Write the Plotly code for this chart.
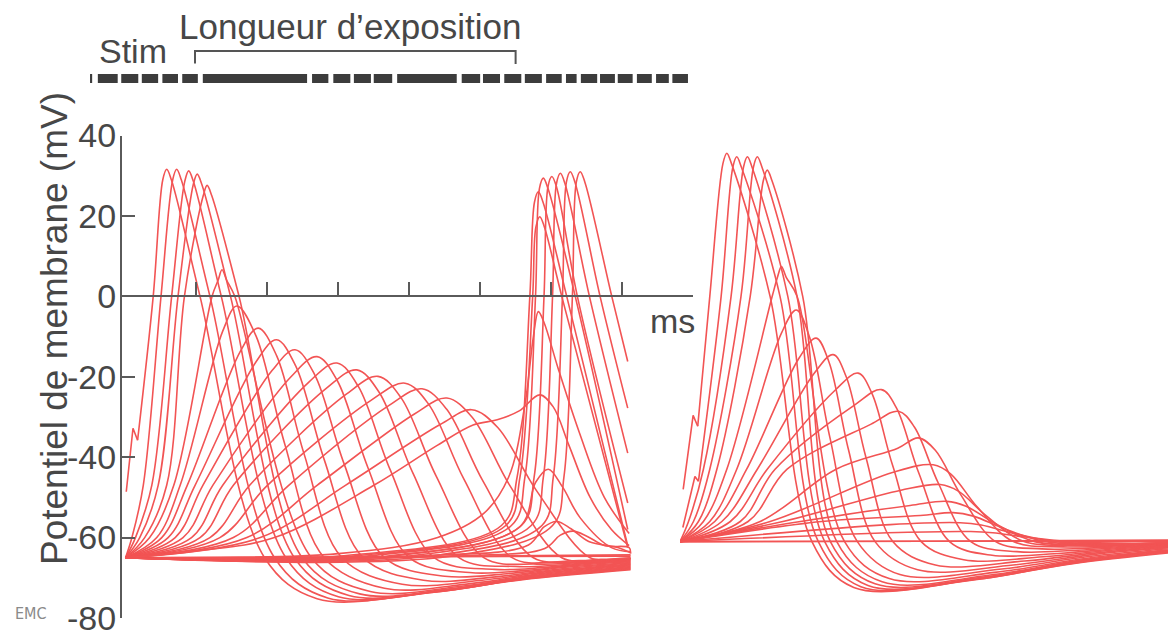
import plotly.graph_objects as go

# ---------------- data (ms, mV) ----------------
# left panel: baseline -65 mV, sweep ends at 71.2 ms
L_VB = -65.0
L_TE = 71.2
L_peak_t = [5.8, 7.2, 8.9, 10.1, 11.5, 13.6, 15.7, 18.7, 21.3, 23.9, 27.0, 29.8, 32.6, 35.6, 39.4, 41.8, 45.3, 48.8]
L_peak_v = [31.6, 31.6, 31.2, 30.4, 27.6, 6.6, -2.4, -7.9, -10.8, -13.3, -15.0, -16.6, -18.3, -19.9, -21.6, -23.0, -25.3, -28.2]
L_t60 = [None, 0.9, 1.4, 2.0, 2.7, 3.4, 4.4, 5.1, 6.0, 7.0, 8.1, 9.3, 10.5, 11.9, 13.3, 15.2, 17.1, 19.0]
L_t47 = [None, 2.5, 3.7, 4.6, 5.8, 6.8, 7.7, 8.7, 9.8, 10.9, 12.3, 13.7, 15.2, 17.5, 20.0, 23.0, 27.0, 31.0]
L_up0 = [3.9, 5.0, 6.5, 7.4, 8.3, 12.2] + [None] * 12
L_fall0 = [10.5, 11.9, 13.5, 14.8, 16.0, 15.4] + [None] * 12
L_base_t = [19.6, 21.0, 22.6, 23.8, 24.9, 26.2, 28.0, 30.5, 33.5, 36.5, 40.0, 43.5, 47.0, 50.5, 54.5, 57.5, 61.5, 65.5]
L_trough_t = [27.0, 28.5, 30.0, 31.5, 33.0, 34.5, 36.5, 39.0, 42.0, 45.0, 48.5, 52.0, 55.0, 58.0, 61.5, 64.0, 67.0, 69.5]
L_trough_v = [-75.2, -75.0, -74.7, -74.4, -74.0, -73.4, -72.6, -71.6, -70.6, -69.6, -68.7, -67.9, -67.2, -66.6, -66.1, -65.7, -65.4, -65.2]
L_end_v = [-68.0, -67.8, -67.6, -67.4, -67.2, -67.0, -66.8, -66.6, -66.4, -66.2, -66.0, -65.8, -65.6, -65.4, -65.3, -65.2, -65.1, -65.0]
# stimulus artefact at the start of the first left trace (drawn straight)
L_art_t = [0.1, 1.05, 1.7]
L_art_v = [-48.6, -32.8, -35.8]

# left panel, late responses
LA_peak_t = [58.2, 58.4, 58.9, 60.1, 61.3, 62.7, 64.1]
LA_peak_v = [26.0, 19.8, 29.4, 29.8, 30.6, 31.0, 31.0]
LA_start_t = [30.0, 32.0, 34.0, 37.0, 40.0, 43.0, 46.0]
LA_t57 = [53.0, 53.6, 54.4, 55.8, 57.2, 58.7, 60.2]
LA_t45 = [55.2, 55.6, 56.3, 57.6, 58.9, 60.3, 61.8]
LA_up0 = [57.0, 57.4, 57.8, 59.0, 60.2, 61.6, 63.0]
LA_fall0 = [62.2, 61.5, 63.4, 63.7, 65.4, 66.9, 68.55]
LA_cut_t = 70.8
LA_end_v = [-62.0, -62.5, -58.0, -51.4, -39.0, -27.8, -16.2]

LP_t = [0, 30, 44, 50.5, 54, 56.3, 57.5, 58.2, 59.0, 61.0, 64.0, 67.5, 71.0]
LP_v = [-65, -64, -60, -54, -45, -27, -10, -3.8, -6.5, -18, -34, -50, -59]
LB_t = [0, 10, 21, 35, 44, 49, 52.4, 55.5, 58.4, 60.3, 62.5, 65.5, 68.5, 71.0]
LB_v = [-65, -63.3, -60, -47, -37, -32, -30.7, -28.5, -24.5, -27.5, -37, -50, -58, -62]

LS_peak_t = [59.6, 60.8, 63.1]
LS_peak_v = [-43.0, -56.0, -58.4]
LS_start_t = [38.0, 42.0, 48.0]
LS_base_t = [68.5, 69.5, 71.0]
LS_end_v = [-63.5, -63.8, -64.0]
LF_end_v = [-64.3, -64.6]

# right panel: baseline -61 mV
R_VB = -61.0
R_TE = 72.0
R_peak_t = [6.6, 8.0, 9.5, 10.9, 12.3, 14.3, 16.4, 19.2, 21.6, 25.1, 28.4, 30.8, 33.6, 35.7, 36.7, 37.6, 38.5, 39.5, 41.0]
R_peak_v = [35.6, 34.7, 34.7, 34.7, 31.4, 7.4, -3.4, -10.4, -14.5, -19.1, -23.2, -28.6, -35.2, -41.9, -46.8, -51.0, -53.8, -56.3, -58.5]
R_t56 = [None, None, 1.2, 1.9, 2.6, 3.3, 4.2, 4.9, 5.9, 7.1, 8.5, 9.6, 11.3, 12.7, 14.5, 17.0, 20.0, None, None]
R_t43 = [None, None, 3.3, 4.2, 5.2, 6.6, 8.0, 9.4, 10.9, 12.3, 13.4, 15.1, 22.0, None, None, None, None, None, None]
R_up0 = [4.2, 5.8, 7.2, 8.6, 9.9, 13.0] + [None] * 13
R_fall0 = [12.7, 14.1, 15.2, 16.5, 17.3, 16.5] + [None] * 13
R_base_t = [18.6, 19.5, 20.4, 21.2, 22.1, 23.2, 25.0, 27.5, 30.0, 34.0, 38.0, 41.0, 44.5, 47.0, 48.5, 50.0, 51.5, 53.0, 55.0]
R_trough_t = [24.5, 25.5, 26.5, 27.5, 28.5, 29.5, 31.0, 33.5, 36.0, 40.0, 44.0, 47.5, 51.0, 54.0, 56.0, 58.0, 60.0, 62.0, 64.0]
R_trough_v = [-72.4, -72.2, -71.9, -71.5, -71.0, -70.2, -69.2, -68.0, -66.8, -65.5, -64.4, -63.5, -62.8, -62.3, -62.0, -61.8, -61.6, -61.5, -61.4]
R_end_v = [-63.3, -63.1, -62.9, -62.7, -62.6, -62.5, -62.3, -62.1, -62.0, -61.9, -61.8, -61.7, -61.6, -61.5, -61.4, -61.3, -61.2, -61.1, -61.0]
R_art_t = [[0.45, 1.85, 2.5], [0.4, 2.1, 2.6]]
R_art_v = [[-48.0, -29.6, -32.3], [-57.5, -44.8, -46.0]]
R_FLAT_END = [-60.6, -60.9]

# stimulus train (ms on the left-panel time scale)
STIM_START = [-5.0, -3.9, -0.6, 2.3, 5.2, 8.0, 10.9, 26.3, 29.3, 32.2, 35.0, 38.3, 47.4, 50.4, 53.4, 56.3, 59.3, 62.1, 64.2, 66.9, 69.4, 72.1, 74.8, 77.1]
STIM_END = [-4.7, -1.1, 1.8, 4.6, 7.4, 10.2, 25.6, 28.6, 31.7, 34.6, 37.6, 46.7, 50.0, 52.8, 55.8, 58.7, 61.5, 63.6, 66.5, 69.0, 71.5, 74.2, 76.6, 79.3]
EXPO_START, EXPO_END = 9.8, 55.0

Y_TICKS = [-80, -60, -40, -20, 0, 20, 40]
Y_TICKTEXT = ['-80', '-60', '-40', '-20', '0', '20', '40']
X_TICKS = [10, 20, 30, 40, 50, 60, 70, 80]

# ---------------- style ----------------
RED = 'rgb(242,84,84)'
LW = 1.6
GREY = '#474747'
AXC = '#5a5a5a'
FONT = 'Liberation Sans'
PK_DT, PK_DV = 0.55, 2.6


def build(vb, te, tp, vp, start_t, start_v, lv, t1, t2, up0, fall0, base_t, tr_t, tr_v, end_v):
    ts, vs = list(start_t), list(start_v)
    amp = vp - vb
    for lt, lvv in ((t1, vb + lv[0]), (t2, vb + lv[1])):
        if lt is not None and lvv < vp - 0.2 * amp:
            ts.append(lt); vs.append(lvv)
    if vp > 0:
        if up0 is not None:
            ts.append(up0); vs.append(0.0)
        ts += [tp - PK_DT, tp, tp + PK_DT * 1.2]
        vs += [vp - PK_DV, vp, vp - PK_DV]
        if fall0 is not None:
            ts.append(fall0); vs.append(0.0)
    else:
        last = ts[-1]
        ts += [tp - 0.25 * (tp - last), tp]
        vs += [vp - 0.1 * amp, vp]
        f = base_t - tp
        ts += [tp + 0.22 * f, tp + 0.55 * f]
        vs += [vp - 0.12 * amp, vb + 0.45 * amp]
    ts.append(base_t); vs.append(vb)
    if tr_t < te - 1:
        ts.append(tr_t); vs.append(tr_v)
        span = te - tr_t
        if span > 10:
            ts += [tr_t + 0.35 * span, tr_t + 0.65 * span]
            vs += [tr_v + 0.2 * (end_v - tr_v), tr_v + 0.65 * (end_v - tr_v)]
    ts.append(te); vs.append(end_v)
    return ts, vs


fig = go.Figure()


def add_curve(ts, vs, xa, shape='spline'):
    fig.add_trace(go.Scatter(x=ts, y=vs, mode='lines', xaxis=xa, yaxis='y',
                             line=dict(color=RED, width=LW, shape=shape, smoothing=1.0),
                             hoverinfo='skip', showlegend=False))


# left panel main family
for i in range(len(L_peak_t)):
    if i == 0:
        add_curve(L_art_t, L_art_v, 'x', 'linear')
        st, sv = L_art_t[-1:], L_art_v[-1:]
    else:
        st, sv = [0.0], [L_VB]
    ts, vs = build(L_VB, L_TE, L_peak_t[i], L_peak_v[i], st, sv, (5, 18), L_t60[i], L_t47[i],
                   L_up0[i], L_fall0[i], L_base_t[i], L_trough_t[i], L_trough_v[i], L_end_v[i])
    add_curve(ts, vs, 'x')

# left panel baseline traces
for ev in LF_end_v:
    add_curve([0.0, 35.0, L_TE], [L_VB, -64.8, ev], 'x')

# left panel small late bumps
for i in range(len(LS_peak_t)):
    tp, vp = LS_peak_t[i], LS_peak_v[i]
    a = vp - L_VB
    add_curve([0.0, LS_start_t[i], tp - 4.0, tp - 1.8, tp, tp + 2.0, tp + 4.5, LS_base_t[i], L_TE],
              [L_VB, L_VB + 0.5, L_VB + 0.35 * a, vp - 0.15 * a, vp, vp - 0.2 * a, L_VB + 0.45 * a, -62.5, LS_end_v[i]], 'x')

add_curve(LB_t, LB_v, 'x')
add_curve(LP_t, LP_v, 'x')

# left panel late action potentials (cut at sweep end)
for i in range(len(LA_peak_t)):
    tp, vp = LA_peak_t[i], LA_peak_v[i]
    add_curve([0.0, LA_start_t[i], LA_t57[i], LA_t45[i], LA_up0[i], tp - PK_DT, tp, tp + PK_DT * 1.2, LA_fall0[i], LA_cut_t],
              [L_VB, L_VB + 0.4, -57, -45, 0, vp - PK_DV, vp, vp - PK_DV, 0, LA_end_v[i]], 'x')

# right panel
for i in range(len(R_peak_t)):
    if i < 2:
        add_curve(R_art_t[i], R_art_v[i], 'x2', 'linear')
        st, sv = R_art_t[i][-1:], R_art_v[i][-1:]
    else:
        st, sv = [0.0], [R_VB]
    ts, vs = build(R_VB, R_TE, R_peak_t[i], R_peak_v[i], st, sv, (5, 18), R_t56[i], R_t43[i],
                   R_up0[i], R_fall0[i], R_base_t[i], R_trough_t[i], R_trough_v[i], R_end_v[i])
    add_curve(ts, vs, 'x2')
for ev in R_FLAT_END:
    add_curve([0.0, 35.0, R_TE], [R_VB, -60.9, ev], 'x2')

# stimulus train and exposure bracket (vertical unit: pixel rows of the header band)
sx, sy = [], []
for a, b in zip(STIM_START, STIM_END):
    sx += [a, b, None]
    sy += [78.5, 78.5, None]
fig.add_trace(go.Scatter(x=sx, y=sy, mode='lines', xaxis='x3', yaxis='y3',
                         line=dict(color='#3c3c3c', width=9), hoverinfo='skip', showlegend=False))
fig.add_trace(go.Scatter(x=[EXPO_START, EXPO_START, EXPO_END, EXPO_END], y=[63.5, 51.0, 51.0, 64.0],
                         mode='lines', xaxis='x3', yaxis='y3',
                         line=dict(color='#555555', width=2), hoverinfo='skip', showlegend=False))

# ---------------- layout ----------------
W, H = 1176, 641
OFF = 8            # page margin of the browser around the figure
px_per_ms = 7.093
y_dom = [1 - (618 - OFF) / H, 1 - (135.5 - OFF) / H]
zero_pos = y_dom[0] + (0 - (-80)) / 120 * (y_dom[1] - y_dom[0])
x_dom = [(122 - OFF) / W, (693 - OFF) / W]
x2_left = 680 - OFF
x2_dom = [x2_left / W, 1.0]

fig.update_layout(
    template='none',
    width=W, height=H, margin=dict(l=0, r=0, t=0, b=0, pad=0), autosize=False,
    paper_bgcolor='white', plot_bgcolor='rgba(0,0,0,0)', showlegend=False,
    xaxis=dict(domain=x_dom, range=[-0.5, -0.5 + (693 - 122) / px_per_ms], anchor='free', position=zero_pos,
               side='bottom', showline=True, linecolor=AXC, linewidth=2, ticks='inside', ticklen=13,
               tickwidth=2, tickcolor=AXC, tickvals=X_TICKS, showticklabels=False, showgrid=False,
               zeroline=False, fixedrange=True, automargin=False),
    yaxis=dict(domain=y_dom, range=[-80, 40], anchor='x', showline=True, linecolor=AXC, linewidth=2,
               ticks='inside', ticklen=13, tickwidth=2, tickcolor=AXC, tickvals=Y_TICKS, ticktext=Y_TICKTEXT,
               tickfont=dict(family=FONT, size=34, color=GREY), ticklabelstandoff=-3, showgrid=False,
               zeroline=False, fixedrange=True, automargin=False),
    xaxis2=dict(domain=x2_dom, range=[0, (W - x2_left) / px_per_ms], anchor='y', visible=False,
                fixedrange=True, automargin=False),
    xaxis3=dict(domain=[0, 1], range=[(OFF - 125.5) / px_per_ms, (W + OFF - 125.5) / px_per_ms], anchor='y3',
                visible=False, fixedrange=True, automargin=False),
    yaxis3=dict(domain=[0.8, 1.0], range=[0.2 * H + OFF, OFF], anchor='x3', visible=False, fixedrange=True,
                automargin=False),
    annotations=[
        dict(text='Stim', x=1.0, y=50.5, xref='x3', yref='y3', showarrow=False,
             font=dict(family=FONT, size=34, color=GREY)),
        dict(text='Longueur d’exposition', x=31.6, y=26, xref='x3', yref='y3', showarrow=False,
             font=dict(family=FONT, size=35, color=GREY)),
        dict(text='ms', x=77.05, y=-6.1, xref='x', yref='y', showarrow=False,
             font=dict(family=FONT, size=34, color=GREY)),
        dict(text='Potentiel de membrane (mV)', x=(32 - OFF) / W, y=1 - (328.5 - OFF) / H,
             xref='paper', yref='paper', textangle=-90, showarrow=False,
             font=dict(family=FONT, size=37, color=GREY)),
        dict(text='EMC', x=(14 - OFF) / W, y=1 - (624 - OFF) / H, xref='paper', yref='paper', showarrow=False,
             xanchor='left', borderpad=0,
             font=dict(family='Liberation Sans Narrow, DejaVu Sans Condensed, Liberation Sans', size=16,
                       color='#8a8a8a')),
    ],
)

fig.write_html('out.html')
